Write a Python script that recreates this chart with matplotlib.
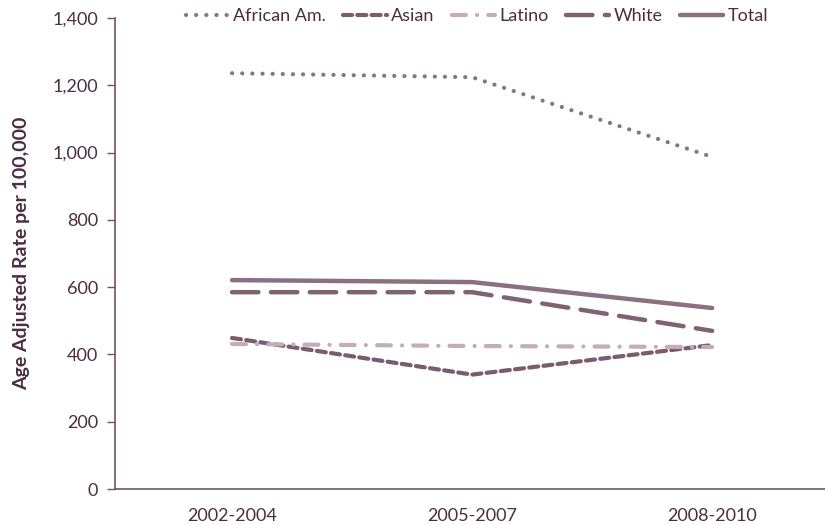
import matplotlib
matplotlib.use("Agg")
import matplotlib.pyplot as plt
from matplotlib.ticker import FuncFormatter

plt.rcParams['font.family'] = ['Lato', 'DejaVu Sans']
plt.rcParams['lines.scale_dashes'] = False

periods = ["2002-2004", "2005-2007", "2008-2010"]
african_am = [1236, 1224, 987]
asian = [449, 340, 428]
latino = [431, 425, 422]
white = [585, 585, 470]
total = [621, 615, 538]

text_color = "#4b2e45"
fig = plt.figure(figsize=(8.25, 5.25), dpi=100)
ax = fig.add_axes([115/825, 36/525, 710/825, 471/525])

x = list(range(len(periods)))
series = [
    ("African Am.", african_am, "#8c7282", (0, (0.1, 7.2)), 3.0),
    ("Asian", asian, "#7b5c6f", (0, (6.5, 3.8)), 3.0),
    ("Latino", latino, "#c3aeb7", (0, (10, 8, 0.1, 8)), 3.0),
    ("White", white, "#7f6375", (0, (19, 9)), 3.2),
    ("Total", total, "#8a7080", "-", 3.2),
]
for name, vals, col, ls, lw in series:
    ax.plot(x, vals, color=col, linestyle=ls, linewidth=lw, label=name,
            dash_capstyle='round', solid_capstyle='round')

ax.set_xlim(-0.4875, 2.47)
ax.set_ylim(0, 1400)
ax.set_yticks(range(0, 1401, 200))
ax.yaxis.set_major_formatter(FuncFormatter(lambda v, p: f"{int(v):,}"))
ax.set_xticks(x)
ax.set_xticklabels(periods)
ax.tick_params(axis='x', length=0, pad=14, labelsize=13, labelcolor=text_color)
ax.tick_params(axis='y', length=6, width=1, color="#6f5566", pad=6,
               labelsize=13, labelcolor=text_color, direction='out')
for s in ["top", "right"]:
    ax.spines[s].set_visible(False)
for s in ["left", "bottom"]:
    ax.spines[s].set_color("#6f5566")
    ax.spines[s].set_linewidth(1.2)

ax.set_ylabel("Age Adjusted Rate per 100,000", fontsize=14, fontweight='bold',
              color=text_color, labelpad=16)

leg = ax.legend(loc='upper center', bbox_to_anchor=(0.51, 1.055), ncol=5, frameon=False,
                handlelength=2.4, handletextpad=0.25, columnspacing=0.95,
                fontsize=13)
for t in leg.get_texts():
    t.set_color(text_color)

fig.savefig("out.png", dpi=100)
